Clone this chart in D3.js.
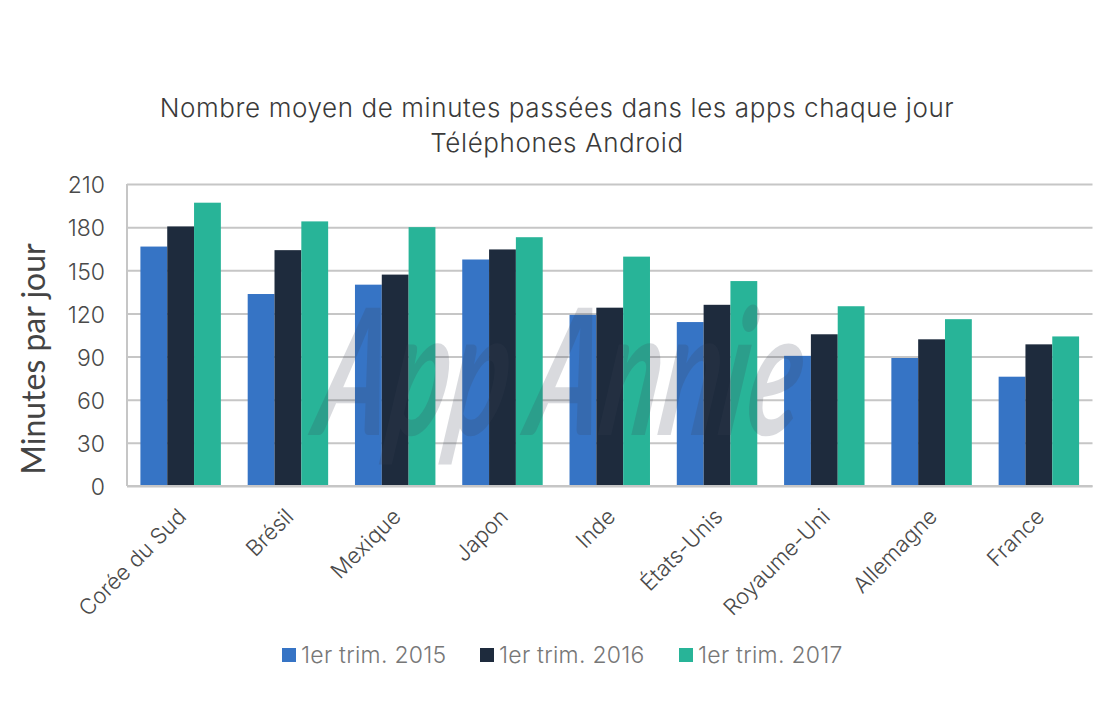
<!DOCTYPE html>
<html>
<head>
<meta charset="utf-8">
<script src="https://cdn.jsdelivr.net/npm/d3@7"></script>
<style>
  html, body { margin: 0; padding: 0; background: #fff; }
  svg { display: block; font-family: Inter, sans-serif; font-weight: 300; }
  .axis path, .axis line { stroke: #c6c6c6; stroke-width: 2px; }
  .axis text { fill: #4a4a4a; font-size: 22px; font-family: Inter, sans-serif; }
</style>
</head>
<body>
<div id="vis"></div>
<script>
const width = 1104;
const height = 704;

const series = ['1er trim. 2015', '1er trim. 2016', '1er trim. 2017'];
const data = [
  { pays: 'Corée du Sud', v: [166.5, 180.5, 197] },
  { pays: 'Brésil', v: [133.5, 164, 184] },
  { pays: 'Mexique', v: [140, 147, 180] },
  { pays: 'Japon', v: [157.5, 164.5, 173] },
  { pays: 'Inde', v: [119, 124, 159.5] },
  { pays: 'États-Unis', v: [114, 126, 142.5] },
  { pays: 'Royaume-Uni', v: [90.5, 105.5, 125] },
  { pays: 'Allemagne', v: [89, 102, 116] },
  { pays: 'France', v: [76, 98.5, 104] }
];

const svg = d3.select('#vis')
              .append('svg')
                .attr('width', width)
                .attr('height', height);

const x = d3.scaleBand()
            .domain(data.map((d) => d.pays))
            .range([127, 1092.5])
            .paddingInner(0.25)
            .paddingOuter(0.125);
const xSub = d3.scaleBand().domain(series).range([0, x.bandwidth()]);
const y = d3.scaleLinear().domain([0, 210]).range([486, 184]);
const color = d3.scaleOrdinal().domain(series).range(['#3674c5', '#1e2b3d', '#28b498']);

// grid lines sit under the bars
const yAxis = svg.append('g')
    .attr('class', 'axis')
    .attr('transform', 'translate(127, 0)')
    .call(d3.axisLeft(y).tickValues(d3.range(0, 211, 30)).tickSize(-965.5).tickPadding(22))
    .call((g) => g.select('.domain').attr('d', 'M0,184V486'));
yAxis.selectAll('text')
    .attr('dy', '0.38em')
    .style('font-size', '23px');

const groups = svg.selectAll('.group')
    .data(data)
    .enter()
  .append('g')
    .attr('class', 'group')
    .attr('transform', (d) => 'translate(' + x(d.pays) + ', 0)');

groups.selectAll('rect')
    .data((d) => d.v.map((value, i) => ({ name: series[i], value: value })))
    .enter()
  .append('rect')
    .attr('x', (d) => xSub(d.name))
    .attr('y', (d) => y(d.value))
    .attr('width', xSub.bandwidth())
    .attr('height', (d) => y(0) - y(d.value))
    .attr('fill', (d) => color(d.name));

// bottom axis, labels only
const xAxis = svg.append('g')
    .attr('class', 'axis')
    .attr('transform', 'translate(0, 486)')
    .call(d3.axisBottom(x).tickSize(0));
xAxis.select('.domain').attr('d', 'M127,0H1092.5');
xAxis.selectAll('text')
    .attr('text-anchor', 'end')
    .attr('dy', 0)
    .attr('y', 0)
    .attr('transform', 'translate(7, 32) rotate(-45)');

// watermark
svg.append('text')
    .attr('transform', 'translate(312, 435) skewX(-9) scale(0.62, 1)')
    .attr('font-family', 'Lato')
    .attr('font-style', 'italic')
    .attr('font-weight', 700)
    .attr('font-size', 176)
    .attr('letter-spacing', 1)
    .attr('fill', '#3a4256')
    .attr('opacity', 0.19)
    .text('App Annie');

// title
svg.selectAll('.title')
    .data(['Nombre moyen de minutes passées dans les apps chaque jour', 'Téléphones Android'])
    .enter()
  .append('text')
    .attr('class', 'title')
    .attr('x', 557)
    .attr('y', (d, i) => 117 + i * 35)
    .attr('text-anchor', 'middle')
    .attr('fill', '#3a3a3a')
    .attr('font-size', 26)
    .attr('letter-spacing', 0.6)
    .text((d) => d);

svg.append('text')
    .attr('transform', 'translate(45, 359) rotate(-90)')
    .attr('text-anchor', 'middle')
    .attr('fill', '#444')
    .attr('font-family', 'Lato')
    .attr('font-weight', 400)
    .attr('font-size', 32)
    .text('Minutes par jour');

// legend
const legendX = d3.scaleOrdinal().domain(series).range([282, 480, 679]);
const legend = svg.selectAll('.legend')
    .data(series)
    .enter()
  .append('g')
    .attr('class', 'legend')
    .attr('transform', (d) => 'translate(' + legendX(d) + ', 648)');
legend.append('rect')
    .attr('width', 14)
    .attr('height', 14)
    .attr('fill', (d) => color(d));
legend.append('text')
    .attr('x', 19)
    .attr('y', 15)
    .attr('fill', '#777')
    .attr('font-size', 23)
    .attr('letter-spacing', 0.25)
    .text((d) => d);
</script>
</body>
</html>
